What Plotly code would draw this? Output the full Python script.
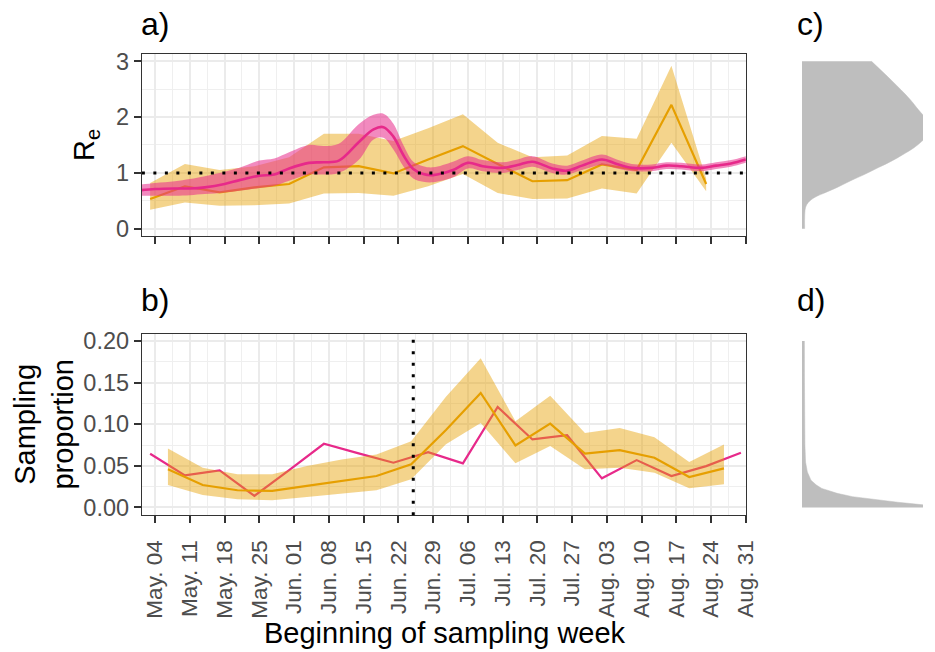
import plotly.graph_objects as go

# ── DATA ───────────────────────────────────────────────────────
week_ticks = ["2020-05-04", "2020-05-11", "2020-05-18", "2020-05-25", "2020-06-01",
              "2020-06-08", "2020-06-15", "2020-06-22", "2020-06-29", "2020-07-06",
              "2020-07-13", "2020-07-20", "2020-07-27", "2020-08-03", "2020-08-10",
              "2020-08-17", "2020-08-24", "2020-08-31"]
week_labels = ["May. 04", "May. 11", "May. 18", "May. 25", "Jun. 01", "Jun. 08",
               "Jun. 15", "Jun. 22", "Jun. 29", "Jul. 06", "Jul. 13", "Jul. 20",
               "Jul. 27", "Aug. 03", "Aug. 10", "Aug. 17", "Aug. 24", "Aug. 31"]

# a) weekly R_e estimate (yellow)
re_week_dates = ["2020-05-03", "2020-05-10", "2020-05-17", "2020-05-24", "2020-05-31",
                 "2020-06-07", "2020-06-14", "2020-06-21", "2020-06-28", "2020-07-05",
                 "2020-07-12", "2020-07-19", "2020-07-26", "2020-08-02", "2020-08-09",
                 "2020-08-16", "2020-08-23"]
re_week_mid = [0.53, 0.76, 0.65, 0.74, 0.80, 1.10, 1.12, 0.99, 1.24, 1.48, 1.16, 0.85,
               0.87, 1.15, 1.05, 2.22, 0.80]
re_week_lo = [0.34, 0.47, 0.41, 0.42, 0.45, 0.63, 0.64, 0.59, 0.76, 0.98, 0.64, 0.53,
              0.54, 0.72, 0.63, 1.54, 0.67]
re_week_hi = [0.82, 1.16, 1.05, 1.12, 1.28, 1.70, 1.70, 1.57, 1.80, 2.05, 1.54, 1.28,
              1.31, 1.66, 1.61, 2.92, 0.90]

# a) smooth R_e estimate (pink)
re_day_dates = ["2020-05-01", "2020-05-04", "2020-05-08", "2020-05-11", "2020-05-14",
                "2020-05-18", "2020-05-21", "2020-05-25", "2020-05-28", "2020-05-31",
                "2020-06-04", "2020-06-07", "2020-06-10", "2020-06-14", "2020-06-17",
                "2020-06-19", "2020-06-21", "2020-06-23", "2020-06-25", "2020-06-27",
                "2020-06-29", "2020-07-03", "2020-07-06", "2020-07-09", "2020-07-13",
                "2020-07-16", "2020-07-19", "2020-07-23", "2020-07-26", "2020-07-29",
                "2020-08-02", "2020-08-05", "2020-08-08", "2020-08-12", "2020-08-15",
                "2020-08-18", "2020-08-22", "2020-08-25", "2020-08-28", "2020-08-31"]
re_day_mid = [0.69, 0.71, 0.72, 0.72, 0.74, 0.80, 0.87, 0.95, 0.97, 1.08,
              1.18, 1.19, 1.22, 1.55, 1.78, 1.82, 1.65, 1.32, 1.07, 0.98,
              0.96, 1.05, 1.18, 1.12, 1.09, 1.14, 1.20, 1.08, 1.04, 1.13,
              1.24, 1.16, 1.09, 1.09, 1.13, 1.12, 1.09, 1.13, 1.17, 1.24]
re_day_lo = [0.59, 0.59, 0.59, 0.60, 0.62, 0.65, 0.68, 0.73, 0.77, 0.86,
             0.97, 0.97, 1.00, 1.23, 1.60, 1.63, 1.42, 1.12, 0.90, 0.84,
             0.83, 0.92, 1.08, 1.03, 1.00, 1.05, 1.11, 1.00, 0.97, 1.05,
             1.14, 1.08, 1.03, 1.03, 1.07, 1.06, 1.03, 1.07, 1.11, 1.18]
re_day_hi = [0.79, 0.82, 0.85, 0.89, 0.94, 1.02, 1.09, 1.22, 1.26, 1.37,
             1.50, 1.48, 1.52, 1.87, 2.04, 2.06, 1.88, 1.50, 1.20, 1.12,
             1.10, 1.20, 1.30, 1.23, 1.19, 1.24, 1.30, 1.17, 1.13, 1.22,
             1.33, 1.24, 1.16, 1.15, 1.19, 1.18, 1.15, 1.19, 1.23, 1.30]

# b) weekly sampling proportion estimate (yellow)
samp_week_dates = ["2020-05-06 14:00", "2020-05-13 14:00", "2020-05-20 14:00",
                   "2020-05-27 14:00", "2020-06-03 14:00", "2020-06-10 14:00",
                   "2020-06-17 14:00", "2020-06-24 14:00", "2020-07-01 14:00",
                   "2020-07-08 14:00", "2020-07-15 14:00", "2020-07-22 14:00",
                   "2020-07-29 14:00", "2020-08-05 14:00", "2020-08-12 14:00",
                   "2020-08-19 14:00", "2020-08-26 14:00"]
samp_week_mid = [0.0458, 0.0270, 0.0207, 0.0199, 0.0259, 0.0319, 0.0378, 0.0518, 0.0930,
                 0.1375, 0.0745, 0.1008, 0.0646, 0.0689, 0.0598, 0.0366, 0.0470]
samp_week_lo = [0.0270, 0.0151, 0.0099, 0.0087, 0.0127, 0.0167, 0.0207, 0.0338, 0.0760,
                0.1016, 0.0530, 0.0737, 0.0458, 0.0478, 0.0418, 0.0231, 0.0279]
samp_week_hi = [0.0709, 0.0478, 0.0398, 0.0398, 0.0497, 0.0577, 0.0637, 0.0796, 0.1330,
                0.1793, 0.1036, 0.1343, 0.0896, 0.0956, 0.0844, 0.0545, 0.0757]

# b) observed sampling proportion (pink)
samp_obs_dates = ["2020-05-03", "2020-05-10", "2020-05-17", "2020-05-24", "2020-05-31",
                  "2020-06-07", "2020-06-14", "2020-06-21", "2020-06-28", "2020-07-05",
                  "2020-07-12", "2020-07-19", "2020-07-26", "2020-08-02", "2020-08-09",
                  "2020-08-16", "2020-08-23", "2020-08-30"]
samp_obs = [0.0646, 0.0386, 0.0446, 0.0139, 0.0450, 0.0765, 0.0650, 0.0538, 0.0665,
            0.0530, 0.1207, 0.0817, 0.0868, 0.0350, 0.0569, 0.0378, 0.0497, 0.0657]

# c) prior density of R_e (arbitrary units)
prior_re_grid = [0, 0.2, 0.38, 0.47, 0.56, 0.62, 0.74, 0.86, 0.97, 1.09, 1.21, 1.33,
                 1.45, 1.57, 1.7, 1.85, 2.0, 2.13, 2.33, 2.66, 3.0]
prior_re_dens = [0.03, 0.03, 0.04, 0.07, 0.14, 0.22, 0.39, 0.54, 0.69, 0.84, 0.99, 1.12,
                 1.24, 1.33, 1.41, 1.43, 1.36, 1.29, 1.19, 0.99, 0.77]

# d) prior density of the sampling proportion (arbitrary units)
prior_sp_grid = [0, 0.0015, 0.0032, 0.0063, 0.0091, 0.013, 0.017, 0.0229, 0.0269, 0.0328,
                 0.0427, 0.0545, 0.075, 0.1, 0.15, 0.2]
prior_sp_dens = [1.90, 1.60, 1.34, 1.06, 0.82, 0.56, 0.39, 0.22, 0.16, 0.10, 0.06, 0.04,
                 0.033, 0.03, 0.028, 0.027]

R_REF = 1
CUTOFF_DATE = "2020-06-25"

# ── STYLE ──────────────────────────────────────
W, H = 935, 652
S = 0.986   # the page shot comes out slightly shrunk; place things in shot pixels
YEL = "#E69F00"
YEL_BAND = "rgba(230,159,0,0.45)"
PINK = "#E7298A"
PINK_BAND = "rgba(231,41,138,0.55)"
GREY = "#BEBEBE"
FONT = "Liberation Sans"


def px_x(p):
    return min(p / (W * S), 1)


def px_y(p):
    return 1 - (p - (1 - S) * H / 2) / S / H


fig = go.Figure()

# panel a
fig.add_trace(go.Scatter(x=re_week_dates, y=re_week_lo, mode="lines", line=dict(width=0),
                         xaxis="x", yaxis="y", hoverinfo="skip"))
fig.add_trace(go.Scatter(x=re_week_dates, y=re_week_hi, mode="lines", line=dict(width=0),
                         fill="tonexty", fillcolor=YEL_BAND, xaxis="x", yaxis="y"))
fig.add_trace(go.Scatter(x=re_week_dates, y=re_week_mid, mode="lines",
                         line=dict(color=YEL, width=2.2), xaxis="x", yaxis="y"))
fig.add_trace(go.Scatter(x=re_day_dates, y=re_day_lo, mode="lines",
                         line=dict(width=0, shape="spline"), xaxis="x", yaxis="y"))
fig.add_trace(go.Scatter(x=re_day_dates, y=re_day_hi, mode="lines",
                         line=dict(width=0, shape="spline"), fill="tonexty",
                         fillcolor=PINK_BAND, xaxis="x", yaxis="y"))
fig.add_trace(go.Scatter(x=re_day_dates, y=re_day_mid, mode="lines",
                         line=dict(color=PINK, width=2.6, shape="spline"),
                         xaxis="x", yaxis="y"))

# panel b
fig.add_trace(go.Scatter(x=samp_obs_dates, y=samp_obs, mode="lines",
                         line=dict(color=PINK, width=2.2), xaxis="x2", yaxis="y2"))
fig.add_trace(go.Scatter(x=samp_week_dates, y=samp_week_lo, mode="lines", line=dict(width=0),
                         xaxis="x2", yaxis="y2"))
fig.add_trace(go.Scatter(x=samp_week_dates, y=samp_week_hi, mode="lines", line=dict(width=0),
                         fill="tonexty", fillcolor=YEL_BAND, xaxis="x2", yaxis="y2"))
fig.add_trace(go.Scatter(x=samp_week_dates, y=samp_week_mid, mode="lines",
                         line=dict(color=YEL, width=2.2), xaxis="x2", yaxis="y2"))

# panels c and d: prior densities
fig.add_trace(go.Scatter(x=prior_re_dens, y=prior_re_grid, mode="lines", fill="tozerox",
                         fillcolor=GREY, line=dict(color=GREY, width=0.5, shape="spline"),
                         xaxis="x3", yaxis="y3"))
fig.add_trace(go.Scatter(x=prior_sp_dens, y=prior_sp_grid, mode="lines", fill="tozerox",
                         fillcolor=GREY, line=dict(color=GREY, width=0.5),
                         xaxis="x4", yaxis="y4"))

x_dom = [px_x(141.7), px_x(745)]
x_rng = ["2020-05-01 08:00", "2020-08-31 00:00"]
a_dom = [px_y(235.5), px_y(52.3)]
b_dom = [px_y(516), px_y(334)]
a_rng = [-0.13, 3.14]
b_rng = [-0.0092, 0.2084]
d_dom = [px_x(801), 1]

frame = dict(showgrid=True, gridcolor="#EBEBEB", gridwidth=1.8,
             showline=True, linecolor="#333333", linewidth=1.2, mirror=True,
             ticks="outside", ticklen=7, tickwidth=1.6, tickcolor="#333333",
             zeroline=False)
xfont = dict(family=FONT, size=22.5, color="#4D4D4D")
yfont = dict(family=FONT, size=23.5, color="#4D4D4D")
xminor = dict(showgrid=True, gridcolor="#EFEFEF", gridwidth=0.9, ticks="",
              tickmode="linear", tick0="2020-05-07 12:00", dtick=7 * 86400000)

fig.update_layout(
    width=W, height=H, margin=dict(l=0, r=0, t=0, b=0), autosize=False,
    paper_bgcolor="white", plot_bgcolor="white", showlegend=False,
    xaxis=dict(domain=x_dom, range=x_rng, anchor="y", tickmode="array",
               tickvals=week_ticks, ticktext=week_labels, showticklabels=False,
               minor=xminor, **frame),
    yaxis=dict(domain=a_dom, range=a_rng, anchor="x", tickmode="array",
               tickvals=[0, 1, 2, 3], ticktext=["0", "1", "2", "3"], tickfont=yfont,
               minor=dict(showgrid=True, gridcolor="#EFEFEF", gridwidth=0.9, ticks="",
                          tick0=0.5, dtick=1), **frame),
    xaxis2=dict(domain=x_dom, range=x_rng, anchor="y2", tickmode="array",
                tickvals=week_ticks, ticktext=week_labels, tickangle=-90,
                tickfont=xfont, ticklabelstandoff=8, minor=xminor, **frame),
    yaxis2=dict(domain=b_dom, range=b_rng, anchor="x2", tickmode="array",
                tickvals=[0, 0.05, 0.10, 0.15, 0.20],
                ticktext=["0.00", "0.05", "0.10", "0.15", "0.20"], tickfont=yfont,
                minor=dict(showgrid=True, gridcolor="#EFEFEF", gridwidth=0.9, ticks="",
                           tick0=0.025, dtick=0.05), **frame),
    xaxis3=dict(domain=d_dom, range=[0, 1.34], anchor="y3", visible=False),
    yaxis3=dict(domain=a_dom, range=a_rng, anchor="x3", visible=False),
    xaxis4=dict(domain=d_dom, range=[0, 1.34], anchor="y4", visible=False),
    yaxis4=dict(domain=b_dom, range=b_rng, anchor="x4", visible=False),
)

dots = dict(color="black", width=3, dash="3px,8.5px")
fig.add_shape(type="line", xref="x domain", yref="y", x0=0, x1=1, y0=R_REF, y1=R_REF,
              line=dots, layer="above")
fig.add_shape(type="line", xref="x2", yref="y2 domain", x0=CUTOFF_DATE, x1=CUTOFF_DATE,
              y0=0, y1=1, line=dots, layer="above")

# panel tags (anchored by the top of their text box) and axis titles
tags = [("a)", 140, 3.6), ("b)", 140, 280.6), ("c)", 795, 3.6), ("d)", 795, 280.6)]
for txt, x, y in tags:
    fig.add_annotation(text=txt, x=px_x(x), y=px_y(y), xref="paper", yref="paper",
                       xanchor="left", yanchor="top", showarrow=False, borderpad=0,
                       font=dict(family=FONT, size=32, color="black"))

fig.add_annotation(text="R<sub>e</sub>", x=px_x(86), y=px_y(144), xref="paper", yref="paper",
                   textangle=-90, showarrow=False, xanchor="center", yanchor="middle",
                   font=dict(family=FONT, size=29, color="black"))
fig.add_annotation(text="Sampling<br>proportion", x=px_x(44), y=px_y(425),
                   xref="paper", yref="paper", textangle=-90, showarrow=False,
                   xanchor="center", yanchor="middle",
                   font=dict(family=FONT, size=29, color="black"))
fig.add_annotation(text="Beginning of sampling week", x=px_x(444), y=px_y(634),
                   xref="paper", yref="paper", showarrow=False,
                   xanchor="center", yanchor="middle",
                   font=dict(family=FONT, size=29, color="black"))

# page body has a default margin and may scroll; pin the figure to the window
page_fix = ("document.documentElement.style.overflow='hidden';"
            "document.body.style.overflow='hidden';"
            "document.body.style.margin='0px';")
fig.write_html("out.html", config={"displayModeBar": False}, post_script=page_fix)
